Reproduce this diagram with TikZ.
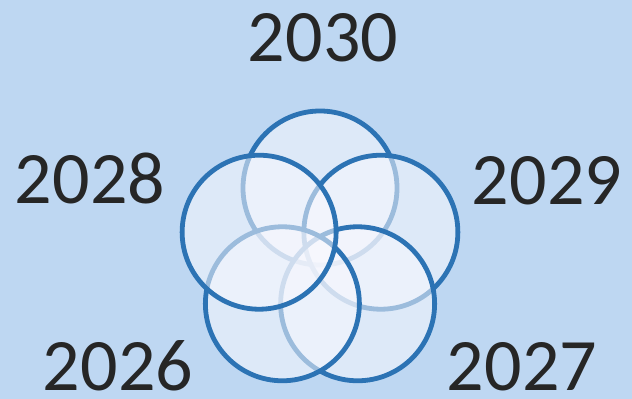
\documentclass[tikz,border=0pt]{standalone}
\usepackage{fontspec}
\setmainfont{Carlito}
\usetikzlibrary{calc}
\definecolor{bgblue}{RGB}{190,215,242}
\definecolor{ringblue}{RGB}{44,115,180}
\definecolor{ringfill}{RGB}{248,248,254}
\definecolor{txtgray}{RGB}{38,38,38}
\begin{document}
\begin{tikzpicture}[x=1pt,y=1pt,
  ring/.style={circle, draw=ringblue, line width=4.8pt, fill=ringfill, fill opacity=0.55,
    draw opacity=1, minimum size=154pt, inner sep=0pt},
  year/.style={anchor=base, text=txtgray, font=\fontsize{74}{80}\selectfont, inner sep=0pt}]
\fill[bgblue] (0,0) rectangle (632,399);
\useasboundingbox (0,0) rectangle (632,399);
\coordinate (m) at (320,147);
\node[ring] (c2030) at ($(m)+(90:64)$) {};
\node[ring] (c2029) at ($(m)+(18:64)$) {};
\node[ring] (c2027) at ($(m)+(-54:64)$) {};
\node[ring] (c2026) at ($(m)+(234:64)$) {};
\node[ring] (c2028) at ($(m)+(162:64)$) {};
\node[year] (t2030) at (323,337) {2030};
\node[year] (t2028) at (90,195) {2028};
\node[year] (t2029) at (547,194) {2029};
\node[year] (t2026) at (118,9) {2026};
\node[year] (t2027) at (522,9) {2027};
\end{tikzpicture}
\end{document}
